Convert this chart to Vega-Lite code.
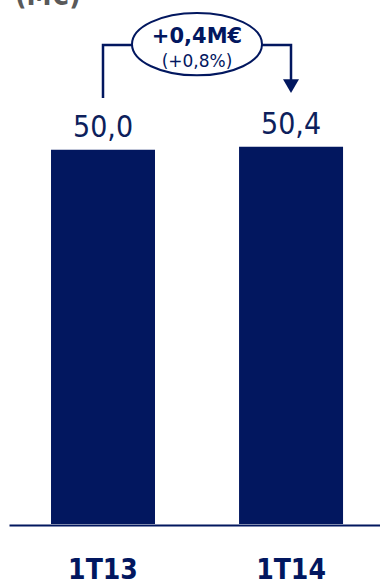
{
  "$schema": "https://vega.github.io/schema/vega-lite/v6.json",
  "width": 371,
  "height": 524,
  "autosize": {"type": "none"},
  "padding": {"left": 9, "top": 0, "right": 0, "bottom": 62},
  "background": "white",
  "config": {
    "view": {"stroke": null},
    "locale": {"number": {"decimal": ",", "thousands": ".", "grouping": [3], "currency": ["", " €"]}}
  },
  "datasets": {
    "barras": [
      {"periodo": "1T13", "valor": 50.0},
      {"periodo": "1T14", "valor": 50.4}
    ],
    "conector": [
      {"pos": 1, "y": 56.9, "orden": 1},
      {"pos": 1, "y": 64.0, "orden": 2},
      {"pos": 2, "y": 64.0, "orden": 3},
      {"pos": 2, "y": 58.5, "orden": 4}
    ],
    "flecha": [{"pos": 2, "y": 58.5}],
    "variacion": [{"pos": 1.5, "y": 64.1, "abs": "+0,4M€", "pct": "(+0,8%)"}],
    "unidad": [{"pos": 0.532, "y": 69.3, "texto": "(M€)"}]
  },
  "layer": [
    {
      "layer": [
        {
          "data": {"name": "barras"},
          "mark": {"type": "bar", "color": "#02175f"},
          "encoding": {
            "x": {
              "field": "periodo", "type": "nominal", "sort": null,
              "scale": {"paddingInner": 0.447, "paddingOuter": 0.21, "align": 0.532},
              "axis": {
                "title": null, "grid": false, "ticks": false, "tickSize": 0,
                "labelPadding": 31, "labelAngle": 0,
                "labelFont": "DejaVu Sans Condensed", "labelFontWeight": "bold",
                "labelFontSize": 28, "labelColor": "#02175f",
                "domainColor": "#02175f", "domainWidth": 2, "offset": 1
              }
            },
            "y": {"field": "valor", "type": "quantitative", "scale": {"domain": [0, 70], "nice": false}, "axis": null}
          }
        },
        {
          "data": {"name": "barras"},
          "mark": {"type": "text", "font": "DejaVu Sans Condensed", "fontSize": 30, "color": "#0d1f5c", "baseline": "alphabetic", "dy": -13},
          "encoding": {
            "x": {"field": "periodo", "type": "nominal", "sort": null},
            "y": {"field": "valor", "type": "quantitative"},
            "text": {"field": "valor", "type": "quantitative", "format": ".1f"}
          }
        }
      ]
    },
    {
      "layer": [
        {
          "data": {"name": "conector"},
          "mark": {"type": "line", "color": "#02175f", "strokeWidth": 2.5},
          "encoding": {
            "x": {"field": "pos", "type": "quantitative", "scale": {"domain": [0.5, 2.4734], "nice": false, "zero": false}, "axis": null},
            "y": {"field": "y", "type": "quantitative"},
            "order": {"field": "orden"}
          }
        },
        {
          "data": {"name": "flecha"},
          "mark": {"type": "point", "shape": "triangle-down", "filled": true, "size": 256, "color": "#02175f", "opacity": 1},
          "encoding": {
            "x": {"field": "pos", "type": "quantitative"},
            "y": {"field": "y", "type": "quantitative"}
          }
        },
        {
          "data": {"name": "variacion"},
          "mark": {"type": "point", "shape": "M-1,0A1,0.48,0,1,0,1,0A1,0.48,0,1,0,-1,0Z", "size": 16900, "filled": true, "fill": "white", "stroke": "#02175f", "strokeWidth": 2, "opacity": 1},
          "encoding": {
            "x": {"field": "pos", "type": "quantitative"},
            "y": {"field": "y", "type": "quantitative"}
          }
        },
        {
          "data": {"name": "variacion"},
          "mark": {"type": "text", "font": "DejaVu Sans", "fontWeight": "bold", "fontSize": 21, "color": "#02175f", "baseline": "alphabetic", "dy": -1},
          "encoding": {
            "x": {"field": "pos", "type": "quantitative"},
            "y": {"field": "y", "type": "quantitative"},
            "text": {"field": "abs"}
          }
        },
        {
          "data": {"name": "variacion"},
          "mark": {"type": "text", "font": "DejaVu Sans", "fontSize": 17, "color": "#02175f", "baseline": "alphabetic", "dy": 23},
          "encoding": {
            "x": {"field": "pos", "type": "quantitative"},
            "y": {"field": "y", "type": "quantitative"},
            "text": {"field": "pct"}
          }
        },
        {
          "data": {"name": "unidad"},
          "mark": {"type": "text", "font": "DejaVu Sans Condensed", "fontWeight": "bold", "fontSize": 28, "color": "#595959", "align": "left", "baseline": "alphabetic"},
          "encoding": {
            "x": {"field": "pos", "type": "quantitative"},
            "y": {"field": "y", "type": "quantitative"},
            "text": {"field": "texto"}
          }
        }
      ]
    }
  ],
  "resolve": {"scale": {"x": "independent"}}
}
